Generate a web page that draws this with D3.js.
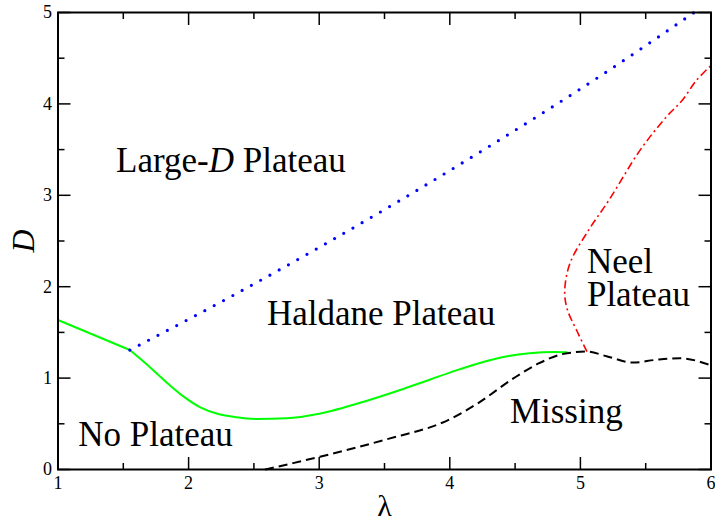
<!DOCTYPE html>
<html>
<head>
<meta charset="utf-8">
<script src="https://cdn.jsdelivr.net/npm/d3@7"></script>
</head>
<body style="margin:0">
<script>
const WIDTH = 715;
const HEIGHT = 524;
const MARGIN = { top: 12.5, right: 4, bottom: 54.5, left: 58 };
const FONT = '"Liberation Serif"';

// axis ticks
const lambdaTicks = [1, 2, 3, 4, 5, 6];
const lambdaMinor = [1.5, 2.5, 3.5, 4.5, 5.5];
const dTicks = [0, 1, 2, 3, 4, 5];
const dMinor = [0.5, 1.5, 2.5, 3.5, 4.5];

// phase boundaries, [lambda, D]
const noPlateauLargeD = [[1.0, 1.636], [1.55, 1.307]];
const noPlateauHaldane = [
  [1.55, 1.307], [1.7, 1.125], [1.85, 0.93], [1.96, 0.8], [2.09, 0.68],
  [2.22, 0.61], [2.35, 0.575], [2.52, 0.553], [2.75, 0.56], [3.0, 0.61],
  [3.36, 0.75], [3.62, 0.87], [3.85, 0.985], [4.05, 1.085], [4.23, 1.165],
  [4.4, 1.228], [4.61, 1.272], [4.8, 1.286], [4.9, 1.283]
];
const largeDHaldane = [
  [1.55, 1.307], [2.28, 1.858], [3.0, 2.43], [3.62, 2.945],
  [4.3, 3.534], [5.21, 4.36], [5.87, 5.0]
];
const haldaneNeel = [
  [5.05, 1.29], [4.97, 1.526], [4.9, 1.75], [4.88, 1.95], [4.92, 2.256],
  [5.06, 2.613], [5.22, 2.95], [5.46, 3.5], [5.66, 3.86], [5.78, 4.04],
  [5.89, 4.26], [6.0, 4.42]
];
const missingEdge = [
  [2.585, 0], [2.8, 0.07], [3.006, 0.14], [3.49, 0.32], [4.0, 0.55],
  [4.21, 0.72], [4.49, 1.0], [4.68, 1.16], [4.87, 1.265], [5.05, 1.29],
  [5.2, 1.24], [5.4, 1.17], [5.58, 1.2], [5.76, 1.217], [6.0, 1.14]
];

const regionLabels = [
  { lam: 1.445, d: 3.26, parts: ["Large-", "D", " Plateau"] },
  { lam: 2.6, d: 1.58, parts: ["Haldane Plateau"] },
  { lam: 1.155, d: 0.26, parts: ["No Plateau"] },
  { lam: 4.46, d: 0.51, parts: ["Missing"] },
  { lam: 5.05, d: 2.15, parts: ["Neel"] },
  { lam: 5.05, d: 1.79, parts: ["Plateau"] }
];

const svg = d3.select("body").append("svg")
  .attr("width", WIDTH)
  .attr("height", HEIGHT);

const innerW = WIDTH - MARGIN.left - MARGIN.right;
const innerH = HEIGHT - MARGIN.top - MARGIN.bottom;

const x = d3.scaleLinear().domain([1, 6]).range([MARGIN.left, MARGIN.left + innerW]);
const y = d3.scaleLinear().domain([0, 5]).range([MARGIN.top + innerH, MARGIN.top]);

const smooth = (curve) => d3.line().x(d => x(d[0])).y(d => y(d[1])).curve(curve);

// —— Curves ——
svg.append("path")
  .datum(noPlateauLargeD)
  .attr("d", smooth(d3.curveLinear))
  .attr("fill", "none").attr("stroke", "#00ff00").attr("stroke-width", 2);

svg.append("path")
  .datum(noPlateauHaldane)
  .attr("d", smooth(d3.curveMonotoneX))
  .attr("fill", "none").attr("stroke", "#00ff00").attr("stroke-width", 2);

svg.append("path")
  .datum(largeDHaldane)
  .attr("d", smooth(d3.curveMonotoneX))
  .attr("fill", "none").attr("stroke", "#0000ff").attr("stroke-width", 3.2)
  .attr("stroke-linecap", "round").attr("stroke-dasharray", "0 10.6");

svg.append("path")
  .datum(haldaneNeel)
  .attr("d", smooth(d3.curveCatmullRom))
  .attr("fill", "none").attr("stroke", "#ff0000").attr("stroke-width", 1.6)
  .attr("stroke-dasharray", "8 3.5 2 3.5");

svg.append("path")
  .datum(missingEdge)
  .attr("d", smooth(d3.curveMonotoneX))
  .attr("fill", "none").attr("stroke", "#000").attr("stroke-width", 2)
  .attr("stroke-dasharray", "9 5");

// —— Frame and ticks ——
svg.append("rect")
  .attr("x", x(1)).attr("y", y(5))
  .attr("width", x(6) - x(1)).attr("height", y(0) - y(5))
  .attr("fill", "none").attr("stroke", "#000").attr("stroke-width", 2);

const tickG = svg.append("g").attr("stroke", "#000").attr("stroke-width", 1.5);
const xTicks = lambdaTicks.map(v => ({ v, len: 12.5 })).concat(lambdaMinor.map(v => ({ v, len: 6.5 })));
const yTicks = dTicks.map(v => ({ v, len: 12.5 })).concat(dMinor.map(v => ({ v, len: 6.5 })));

tickG.selectAll(".xb").data(xTicks).join("line").attr("class", "xb")
  .attr("x1", d => x(d.v)).attr("x2", d => x(d.v))
  .attr("y1", y(0)).attr("y2", d => y(0) - d.len);
tickG.selectAll(".xt").data(xTicks).join("line").attr("class", "xt")
  .attr("x1", d => x(d.v)).attr("x2", d => x(d.v))
  .attr("y1", y(5)).attr("y2", d => y(5) + d.len);
tickG.selectAll(".yl").data(yTicks).join("line").attr("class", "yl")
  .attr("y1", d => y(d.v)).attr("y2", d => y(d.v))
  .attr("x1", x(1)).attr("x2", d => x(1) + d.len);
tickG.selectAll(".yr").data(yTicks).join("line").attr("class", "yr")
  .attr("y1", d => y(d.v)).attr("y2", d => y(d.v))
  .attr("x1", x(6)).attr("x2", d => x(6) - d.len);

svg.selectAll(".xlab").data(lambdaTicks).join("text")
  .attr("class", "xlab")
  .attr("x", d => x(d)).attr("y", y(0) + 19)
  .attr("text-anchor", "middle")
  .attr("font-size", 18)
  .style("font-family", FONT)
  .text(d => d);

svg.selectAll(".ylab").data(dTicks).join("text")
  .attr("class", "ylab")
  .attr("x", x(1) - 6).attr("y", d => y(d))
  .attr("dy", "0.33em")
  .attr("text-anchor", "end")
  .attr("font-size", 18)
  .style("font-family", FONT)
  .text(d => d);

// —— Axis titles ——
svg.append("text")
  .attr("x", (x(1) + x(6)) / 2).attr("y", 516)
  .attr("text-anchor", "middle")
  .attr("font-size", 30)
  .style("font-family", FONT)
  .text("λ");

svg.append("text")
  .attr("transform", `translate(34,${(y(0) + y(5)) / 2}) rotate(-90)`)
  .attr("text-anchor", "middle")
  .attr("font-size", 32)
  .attr("font-style", "italic")
  .style("font-family", FONT)
  .text("D");

// —— Region labels ——
svg.selectAll(".region").data(regionLabels).join("text")
  .attr("class", "region")
  .attr("x", d => x(d.lam)).attr("y", d => y(d.d))
  .attr("font-size", 35)
  .style("font-family", FONT)
  .each(function (d) {
    d3.select(this).selectAll("tspan").data(d.parts).join("tspan")
      .attr("font-style", p => p === "D" ? "italic" : "normal")
      .text(p => p);
  });
</script>
</body>
</html>
